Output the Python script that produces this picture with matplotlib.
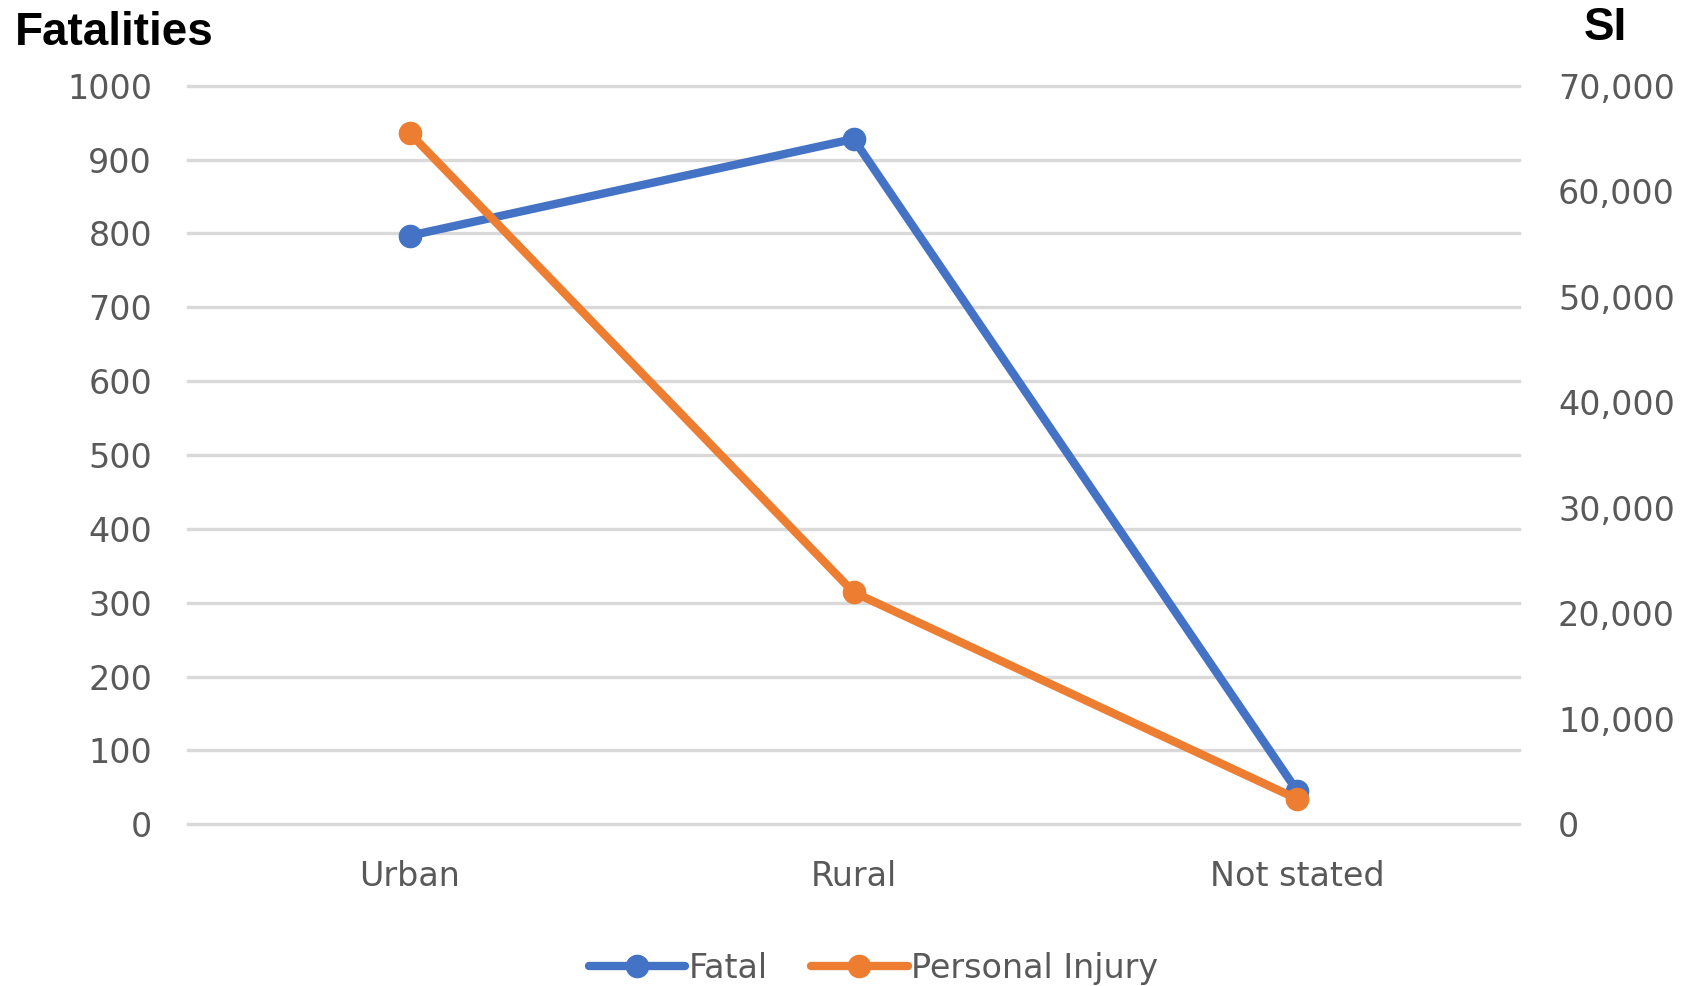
import matplotlib.pyplot as plt
from matplotlib.ticker import FuncFormatter

# data
categories = ['Urban', 'Rural', 'Not stated']
fatal = [797, 928, 45]
personal_injury = [65500, 22000, 2400]
left_ticks = list(range(0, 1001, 100))
right_ticks = list(range(0, 70001, 10000))

BLUE = '#4472C4'
ORANGE = '#ED7D31'
GREY = '#595959'

fig = plt.figure(figsize=(16.86, 9.86), dpi=100)
ax = fig.add_axes([0.1115, 0.164, 0.7895, 0.749])
ax2 = ax.twinx()

x = range(len(categories))
ax.plot(x, fatal, color=BLUE, lw=6, marker='o', ms=16, label='Fatal',
        solid_capstyle='round', zorder=3)
ax2.plot(x, personal_injury, color=ORANGE, lw=6, marker='o', ms=16,
         label='Personal Injury', solid_capstyle='round', zorder=3)

ax.set_xlim(-0.5, 2.5)
ax.set_ylim(0, 1000)
ax2.set_ylim(0, 70000)
ax.set_yticks(left_ticks)
ax2.set_yticks(right_ticks)
ax2.yaxis.set_major_formatter(FuncFormatter(lambda v, p: f'{int(v):,}'))
ax.set_xticks(list(x))
ax.set_xticklabels(categories)

#Grid and spines
ax.grid(axis='y', color='#d9d9d9', lw=2.4)
for gl in ax.get_ygridlines():
    gl.set_clip_on(False)
ax.set_axisbelow(True)
for a in (ax, ax2):
    for s in a.spines.values():
        s.set_visible(False)
    a.tick_params(length=0, labelsize=24, labelcolor=GREY)
ax.tick_params(axis='y', pad=26)
ax2.tick_params(axis='y', pad=28)
ax.tick_params(axis='x', pad=26)

fig.text(0.009, 0.967, 'Fatalities', fontsize=33, fontweight='bold',
         family='Liberation Sans', ha='left', va='center')
fig.text(0.952, 0.972, 'SI', fontsize=33, fontweight='bold',
         family='Liberation Sans', ha='center', va='center')

h1, l1 = ax.get_legend_handles_labels()
h2, l2 = ax2.get_legend_handles_labels()
fig.legend(h1 + h2, l1 + l2, loc='center', bbox_to_anchor=(0.518, 0.018),
           ncol=2, frameon=False, fontsize=24, labelcolor=GREY,
           handlelength=2.9, handletextpad=0.1, columnspacing=1.3)

fig.savefig('out.png', dpi=100)
